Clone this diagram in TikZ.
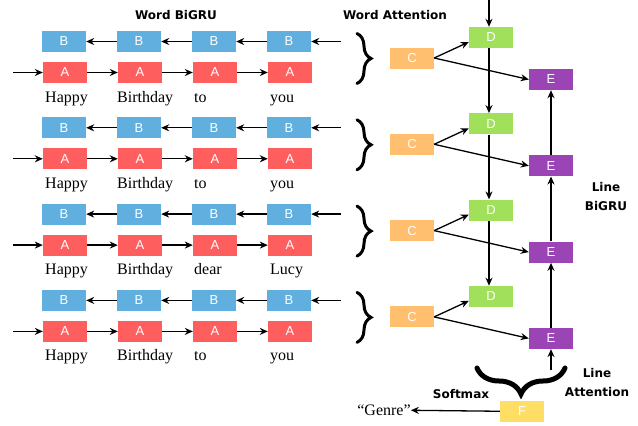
\documentclass[tikz,border=0pt]{standalone}
\usepackage{fontspec}
\setmainfont{Liberation Serif}
\newfontfamily\boxfont{Liberation Sans}
\newfontfamily\labfont{DejaVu Sans}
\usetikzlibrary{arrows.meta,decorations.pathreplacing}
\definecolor{cB}{RGB}{97,175,222}
\definecolor{cA}{RGB}{255,94,94}
\definecolor{cC}{RGB}{255,191,110}
\definecolor{cD}{RGB}{160,224,90}
\definecolor{cE}{RGB}{155,68,181}
\definecolor{cF}{RGB}{255,222,102}
\tikzset{
  cell/.style={minimum width=44pt,minimum height=21pt,inner sep=0pt,text=white,font=\boxfont\fontsize{13}{13}\selectfont},
  word/.style={anchor=base west,inner sep=0pt,font=\fontsize{16}{16}\selectfont},
  lab/.style={inner sep=0pt,align=center,font=\labfont\bfseries\fontsize{12}{19}\selectfont},
  arr/.style={line width=1.3pt,-{Stealth[length=8pt,width=7pt]}},
  brc/.style={decorate,line width=3pt,line cap=round,decoration={brace,amplitude=14pt}},
  bigbrc/.style={decorate,line width=5pt,line cap=round,decoration={brace,amplitude=26pt}},
}
\begin{document}
\begin{tikzpicture}[x=1pt,y=-1pt]
\useasboundingbox (0,0) rectangle (638,426);
\node[lab] (wbg) at (176,15) {Word BiGRU};
\node[lab] (wat) at (395,15) {Word Attention};
\node[lab] (lbg) at (606,197) {Line\\BiGRU};
\node[lab] (lat) at (597,383) {Line\\Attention};
\node[lab] (smx) at (461,394.5) {Softmax};
\foreach \r/\wA/\wB/\wC/\wD in {1/Happy/Birthday/to/you,2/Happy/Birthday/to/you,3/Happy/Birthday/dear/Lucy,4/Happy/Birthday/to/you}{
  \pgfmathsetmacro{\yb}{41.5+86.3*(\r-1)}
  \pgfmathsetmacro{\ya}{\yb+31}
  \pgfmathsetmacro{\yw}{\yb+60.5}
  \foreach \i/\x in {1/64,2/139,3/214,4/289}{
    \node[cell,fill=cB] (b\r\i) at (\x,\yb) {B};
    \node[cell,fill=cA] (a\r\i) at (\x+1,\ya) {A};
  }
  \node[word] (w\r1) at (45,\yw) {\wA};
  \node[word] (w\r2) at (117,\yw) {\wB};
  \node[word] (w\r3) at (194,\yw) {\wC};
  \node[word] (w\r4) at (270,\yw) {\wD};
  \coordinate (ain\r) at (13,\ya);
  \coordinate (bin\r) at (341,\yb);
  \draw[arr] (ain\r) -- (a\r1);
  \draw[arr] (a\r1) -- (a\r2);
  \draw[arr] (a\r2) -- (a\r3);
  \draw[arr] (a\r3) -- (a\r4);
  \draw[arr] (bin\r) -- (b\r4);
  \draw[arr] (b\r4) -- (b\r3);
  \draw[arr] (b\r3) -- (b\r2);
  \draw[arr] (b\r2) -- (b\r1);
  \draw[brc] (357,\yb-8) -- (357,\yb+42);
  \node[cell,fill=cC] (c\r) at (412,\yb+16.5) {C};
  \node[cell,fill=cD] (d\r) at (491,\yb-4) {D};
  \node[cell,fill=cE] (e\r) at (551,\yb+38) {E};
  \draw[arr] (c\r.east) -- ([yshift=-4.5pt]d\r.west);
  \draw[arr] (c\r.east) -- (e\r.west);
}
\coordinate (dtop) at (489,0);
\draw[arr] (dtop) -- (dtop |- d1.north);
\draw[arr] (d1.south -| dtop) -- (d2.north -| dtop);
\draw[arr] (d2.south -| dtop) -- (d3.north -| dtop);
\draw[arr] (d3.south -| dtop) -- (d4.north -| dtop);
\draw[arr] (e4) -- (e3);
\draw[arr] (e3) -- (e2);
\draw[arr] (e2) -- (e1);
\draw[bigbrc] (565,368) -- (477,368);
\coordinate (ebot) at (551,370);
\draw[arr] (ebot) -- (e4);
\node[cell,fill=cF] (f) at (522,411.5) {F};
\node[inner sep=0pt,font=\fontsize{16}{16}\selectfont] (genre) at (384,410) {“Genre”};
\draw[arr] (f) -- (genre);
\end{tikzpicture}
\end{document}
